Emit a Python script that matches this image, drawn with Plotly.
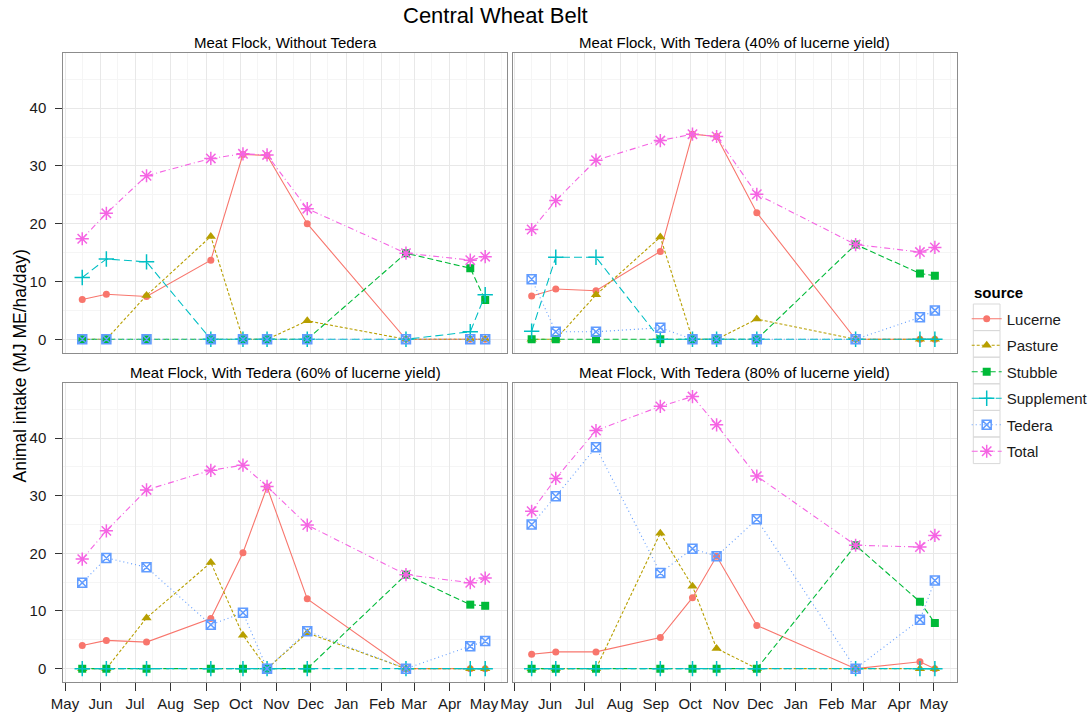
import plotly.graph_objects as go

# Sampling dates of the feed-supply model (one seasonal year, May to May)
DATES = ["2014-05-16", "2014-06-06", "2014-07-11", "2014-09-05", "2014-10-03",
         "2014-10-24", "2014-11-28", "2015-02-22", "2015-04-19", "2015-05-02"]

SOURCES = ["Lucerne", "Pasture", "Stubble", "Supplement", "Tedera", "Total"]

PANEL_TITLES = [
    "Meat Flock, Without Tedera",
    "Meat Flock, With Tedera (40% of lucerne yield)",
    "Meat Flock, With Tedera (60% of lucerne yield)",
    "Meat Flock, With Tedera (80% of lucerne yield)",
]

# Animal intake (MJ ME/ha/day) by source — without Tedera
LUCERNE_NONE = [6.9, 7.8, 7.4, 13.7, 32.0, 31.8, 20.0, 0, 0, 0]
PASTURE_NONE = [0, 0, 7.6, 17.8, 0, 0, 3.2, 0, 0, 0]
STUBBLE_NONE = [0, 0, 0, 0, 0, 0, 0, 14.9, 12.3, 6.8]
SUPPLEMENT_NONE = [10.7, 13.9, 13.4, 0, 0, 0, 0, 0, 1.3, 7.7]
TEDERA_NONE = [0, 0, 0, 0, 0, 0, 0, 0, 0, 0]
TOTAL_NONE = [17.4, 21.8, 28.3, 31.3, 32.1, 31.9, 22.6, 14.9, 13.7, 14.3]

# With Tedera at 40% of lucerne yield
LUCERNE_40 = [7.5, 8.7, 8.4, 15.2, 35.5, 35.1, 21.9, 0, 0, 0]
PASTURE_40 = [0, 0, 7.7, 17.7, 0, 0, 3.5, 0, 0, 0]
STUBBLE_40 = [0, 0, 0, 0, 0, 0, 0, 16.4, 11.4, 11.0]
SUPPLEMENT_40 = [1.4, 14.2, 14.2, 0, 0, 0, 0, 0, 0, 0]
TEDERA_40 = [10.4, 1.3, 1.3, 2.0, 0, 0, 0, 0, 3.8, 5.0]
TOTAL_40 = [19.0, 24.0, 31.0, 34.4, 35.5, 35.1, 25.1, 16.4, 15.1, 15.9]

# With Tedera at 60% of lucerne yield
LUCERNE_60 = [4.0, 4.9, 4.6, 8.7, 20.1, 31.5, 12.1, 0, 0, 0]
PASTURE_60 = [0, 0, 8.8, 18.4, 5.8, 0, 6.2, 0, 0, 0]
STUBBLE_60 = [0, 0, 0, 0, 0, 0, 0, 16.3, 11.1, 10.9]
SUPPLEMENT_60 = [0, 0, 0, 0, 0, 0, 0, 0, 0, 0]
TEDERA_60 = [14.9, 19.2, 17.6, 7.6, 9.7, 0, 6.5, 0, 3.9, 4.8]
TOTAL_60 = [19.0, 23.9, 31.0, 34.4, 35.3, 31.6, 24.9, 16.3, 14.9, 15.7]

# With Tedera at 80% of lucerne yield
LUCERNE_80 = [2.5, 2.9, 2.9, 5.4, 12.3, 19.5, 7.5, 0, 1.2, 0]
PASTURE_80 = [0, 0, 0, 23.5, 14.3, 3.5, 0, 0, 0, 0]
STUBBLE_80 = [0, 0, 0, 0, 0, 0, 0, 21.4, 11.6, 7.9]
SUPPLEMENT_80 = [0, 0, 0, 0, 0, 0, 0, 0, 0, 0]
TEDERA_80 = [25.0, 29.9, 38.4, 16.6, 20.8, 19.5, 25.9, 0, 8.5, 15.3]
TOTAL_80 = [27.3, 33.0, 41.3, 45.5, 47.2, 42.3, 33.4, 21.4, 21.1, 23.1]

PANELS = [
    [LUCERNE_NONE, PASTURE_NONE, STUBBLE_NONE, SUPPLEMENT_NONE, TEDERA_NONE, TOTAL_NONE],
    [LUCERNE_40, PASTURE_40, STUBBLE_40, SUPPLEMENT_40, TEDERA_40, TOTAL_40],
    [LUCERNE_60, PASTURE_60, STUBBLE_60, SUPPLEMENT_60, TEDERA_60, TOTAL_60],
    [LUCERNE_80, PASTURE_80, STUBBLE_80, SUPPLEMENT_80, TEDERA_80, TOTAL_80],
]

MONTH_TICKS = ["2014-%02d-01" % m for m in range(5, 13)] + ["2015-%02d-01" % m for m in range(1, 6)]
MID_MONTHS = ["2014-%02d-16" % m for m in range(4, 13)] + ["2015-%02d-16" % m for m in range(1, 6)]

COLORS = ["#F8766D", "#B79F00", "#00BA38", "#00BFC4", "#619CFF", "#F564E3"]
DASHES = ["solid", "3px,2px", "6px,3px", "8px,4px", "1px,3px", "6px,3px,1px,3px"]
SYMBOLS = ["circle", "triangle-up", "square", "cross-thin-open", "square-x-open", "asterisk-open"]
SIZES = [7, 9, 8, 11, 9, 11]

FONT = "Liberation Sans, Arial, sans-serif"
W, H = 1090, 721

# panel rectangles in pixels: (left, top, right, bottom)
RECTS = [(63.3, 52.7, 507, 352.7), (512.7, 52.7, 956.7, 352.7),
         (63.3, 382.7, 507, 682), (512.7, 382.7, 956.7, 682)]

fig = go.Figure()

for p, series in enumerate(PANELS):
    suffix = "" if p == 0 else str(p + 1)
    for s, name in enumerate(SOURCES):
        sym_line = 1.5 if s >= 3 else 0
        fig.add_trace(go.Scatter(
            x=DATES, y=series[s], name=name, legendgroup=name,
            showlegend=(p == 0), mode="lines+markers",
            line=dict(color=COLORS[s], width=1.1, dash=DASHES[s]),
            marker=dict(symbol=SYMBOLS[s], size=SIZES[s], color=COLORS[s],
                        line=dict(color=COLORS[s], width=sym_line)),
            xaxis="x" + suffix, yaxis="y" + suffix,
        ))

layout = dict(
    width=W, height=H, margin=dict(l=0, r=0, t=0, b=0, autoexpand=False),
    paper_bgcolor="white", plot_bgcolor="white",
    font=dict(family=FONT, size=15, color="#1a1a1a"),
    showlegend=True,
    legend=dict(
        x=966.7 / W, y=1 - 302.5 / H, xanchor="left", yanchor="top",
        font=dict(size=15), tracegroupgap=4, bgcolor="rgba(0,0,0,0)",
    ),
)

for p, (l, t, r, b) in enumerate(RECTS):
    suffix = "" if p == 0 else str(p + 1)
    bottom = p >= 2
    left = p % 2 == 0
    layout["xaxis" + suffix] = dict(
        domain=[l / W, r / W], anchor="y" + suffix, automargin=False,
        type="date", range=["2014-04-29 12:00", "2015-05-21"],
        tickvals=MONTH_TICKS, tickformat="%b",
        showticklabels=bottom, ticks="outside" if bottom else "",
        ticklen=8, tickcolor="#333", tickfont=dict(size=15),
        showline=True, mirror=True, linecolor="#8c8c8c", linewidth=1,
        showgrid=True, gridcolor="#E8E8E8", gridwidth=1,
        minor=dict(tickvals=MID_MONTHS, showgrid=True, gridcolor="#F5F5F5", ticks=""),
        zeroline=False, fixedrange=True,
    )
    layout["yaxis" + suffix] = dict(
        domain=[1 - b / H, 1 - t / H], anchor="x" + suffix, automargin=False,
        range=[-2.32, 49.6], tickvals=[0, 10, 20, 30, 40],
        showticklabels=left, ticks="outside" if left else "",
        ticklen=7, tickcolor="#333", tickfont=dict(size=15), ticklabelstandoff=6,
        showline=True, mirror=True, linecolor="#8c8c8c", linewidth=1,
        showgrid=True, gridcolor="#E8E8E8", gridwidth=1,
        minor=dict(dtick=5, showgrid=True, gridcolor="#F5F5F5", ticks=""),
        zeroline=False, fixedrange=True,
    )

annotations = [
    dict(text="Central Wheat Belt", x=495 / W, y=1 - 16 / H, xref="paper", yref="paper",
         showarrow=False, font=dict(size=22, color="black"), xanchor="center", yanchor="middle"),
    dict(text="Animal intake (MJ ME/ha/day)", x=19 / W, y=1 - 366.5 / H, xref="paper", yref="paper",
         showarrow=False, textangle=-90, font=dict(size=17.5, color="black"),
         xanchor="center", yanchor="middle"),
    dict(text="<b>source</b>", x=972 / W, y=1 - 292 / H, xref="paper", yref="paper",
         showarrow=False, font=dict(size=15, color="black"), xanchor="left", yanchor="middle"),
]
for p, (l, t, r, b) in enumerate(RECTS):
    annotations.append(dict(
        text=PANEL_TITLES[p], x=(l + r) / 2 / W, y=1 - (t - 10.5) / H,
        xref="paper", yref="paper", showarrow=False,
        font=dict(size=15, color="black"), xanchor="center", yanchor="middle"))
layout["annotations"] = annotations

# outlined key cells next to the legend entries
shapes = []
for i in range(len(SOURCES)):
    y0 = 304 + i * 26.6
    shapes.append(dict(type="rect", xref="paper", yref="paper",
                       x0=973.3 / W, x1=1000 / W, y0=1 - y0 / H, y1=1 - (y0 + 26.6) / H,
                       line=dict(color="#D9D9D9", width=1), fillcolor="rgba(0,0,0,0)"))
layout["shapes"] = shapes

fig.update_layout(**layout)
fig.write_html("out.html")
